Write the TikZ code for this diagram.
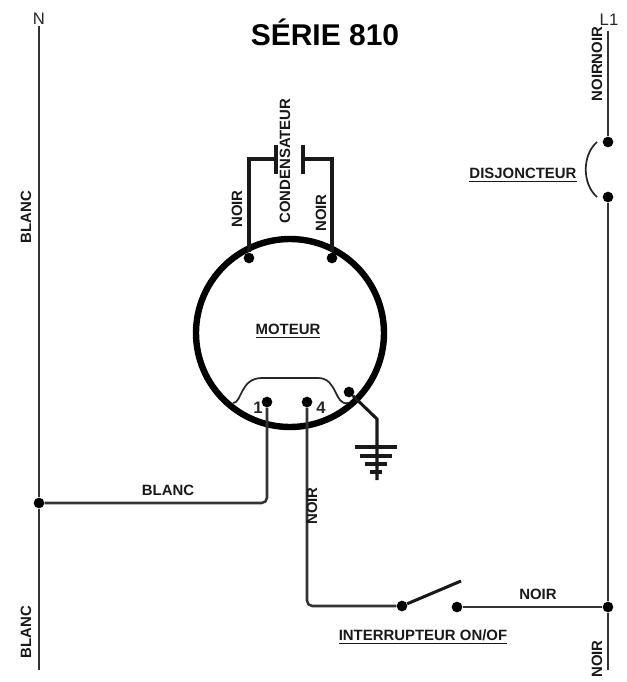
\documentclass[tikz,border=0pt]{standalone}
\usepackage{fontspec}
\setmainfont{Liberation Sans}
\newcommand{\ulbl}[1]{\vtop{\hbox{#1}\kern1.8pt\hrule height 1pt}}
\begin{document}
\begin{tikzpicture} [x=0.75pt,y=-0.75pt,>=stealth,
			wire/.style={draw=black!80,line width=1.9pt,rounded corners=4pt},
			heavywire/.style={draw=black!90,line width=2.3pt},
			thinwire/.style={draw=black!85,line width=1.3pt},
			dot/.style={circle,fill=black,inner sep=0pt,minimum size=8pt},
			motor/.style={circle,draw=black,line width=4.8pt,inner sep=0pt,minimum size=141pt},
			txt/.style={inner sep=0pt,font=\fontsize{11.2}{13}\selectfont\bfseries,text=black!90},
			vtxt/.style={txt,rotate=90},
			lead/.style={inner sep=0pt,font=\fontsize{12.5}{14}\selectfont,text=black!85}]

		\useasboundingbox (0,0) rectangle (626,682);

		\node [inner sep=0pt,font=\fontsize{22.5}{26}\selectfont\bfseries] (title) at (325,32) {SÉRIE 810};
		\node [lead] (n) at (39,19) {N};
		\node [lead] (l1) at (609,20) {L1};

		\node [motor] (moteur) at (290,333) {};
		\node [txt] (tm) at (288,331) {\ulbl{MOTEUR}};

		\node [dot] (c1) at (249,258) {};
		\node [dot] (c2) at (332,258) {};
		\node [dot] (b1) at (267,402) {};
		\node [dot] (b4) at (307,402) {};
		\node [dot] (g) at (349,392) {};
		\node [dot] (jn) at (39,503) {};
		\node [dot] (s1) at (402,606) {};
		\node [dot] (s2) at (457,607) {};
		\node [dot] (jl) at (608,607) {};
		\node [dot] (d1) at (608,142) {};
		\node [dot] (d2) at (608,197) {};

		\coordinate (ntop) at (39,26);
		\coordinate (nbot) at (39,670);
		\coordinate (ltop) at (608,31);
		\coordinate (lbot) at (608,670);
		\coordinate (pl1) at (276,145);
		\coordinate (pl2) at (276,174);
		\coordinate (pr1) at (303,145);
		\coordinate (pr2) at (303,174);
		\coordinate (armend) at (461,581);
		\coordinate (gk) at (377,419);
		\coordinate (gend) at (377,480);

		\draw [wire] (ntop) -- (jn) -- (nbot);
		\draw [wire] (jn) -- (267,503) -- (b1);
		\draw [wire] (b4) -- (307,606) -- (s1);
		\draw [heavywire] (s1) -- (armend);
		\draw [wire] (s2) -- (jl);
		\draw [wire] (ltop) -- (d1);
		\draw [wire] (d2) -- (jl) -- (lbot);
		\draw [heavywire] (c1) -- (249,159) -- (276,159);
		\draw [heavywire] (c2) -- (332,159) -- (303,159);
		\draw [heavywire] (pl1) -- (pl2);
		\draw [heavywire] (pr1) -- (pr2);
		\draw [heavywire] (g) -- (gk) -- (gend);

		\draw [heavywire] (355,447) -- (397,447);
		\draw [heavywire] (360,456) -- (392,456);
		\draw [heavywire] (365,464) -- (387,464);
		\draw [heavywire] (370,472) -- (382,472);

		\draw [thinwire] (233,403) .. controls (242,403) and (240,378) .. (262,378)
			-- (318,378) .. controls (338,378) and (334,406) .. (348,403);
		\draw [thinwire] (597,142) .. controls (582,155) and (582,184) .. (597,197);

		\node [lead] (one) at (258,408) {\bfseries 1};
		\node [lead] (four) at (321,408) {\bfseries 4};

		\node [vtxt] (t1) at (26,217) {BLANC};
		\node [vtxt] (t2) at (26,632) {BLANC};
		\node [vtxt] (t3) at (597,64) {NOIRNOIR};
		\node [vtxt] (t4) at (237,209) {NOIR};
		\node [vtxt] (t5) at (285,161) {CONDENSATEUR};
		\node [vtxt] (t6) at (321,213) {NOIR};
		\node [vtxt] (t7) at (312,506) {NOIR};
		\node [vtxt] (t8) at (597,659) {NOIR};
		\node [txt] (t9) at (168,490) {BLANC};
		\node [txt] (t10) at (538,594) {NOIR};
		\node [txt] (t11) at (523,175) {\ulbl{DISJONCTEUR}};
		\node [txt] (t12) at (423,637) {\ulbl{INTERRUPTEUR ON/OF}};

		\end{tikzpicture}
\end{document}
